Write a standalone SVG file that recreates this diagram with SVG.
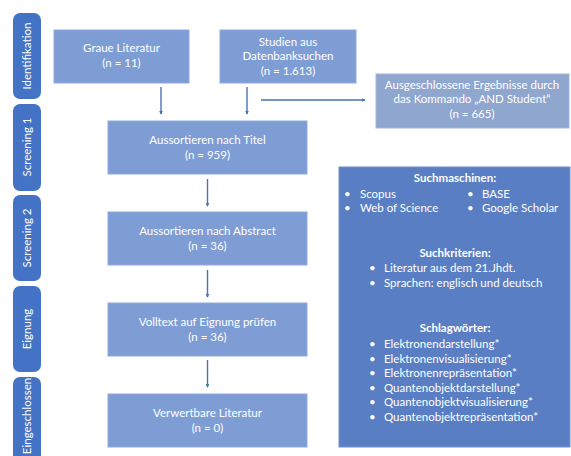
<svg xmlns="http://www.w3.org/2000/svg" width="571" height="456" viewBox="0 0 571 456">
<defs>
<style>
text{font-family:Lato,"Open Sans","Liberation Sans",sans-serif;fill:#ffffff;font-size:11.5px}
.c{text-anchor:middle}
.b{font-weight:bold}
.side{fill:#4472c4}
.box{fill:#7e9dd5;stroke:#8fabe0;stroke-width:1}
.exc{fill:#8fa6cf;stroke:#a3b6d9;stroke-width:1}
.panel{fill:#5a7ec4;stroke:#7090cc;stroke-width:1}
.con{stroke:#4a72b8;stroke-width:1.4;fill:none}
</style>
<marker id="ah" viewBox="0 0 6 6" refX="5" refY="3" markerWidth="4" markerHeight="4" orient="auto" markerUnits="userSpaceOnUse">
<path d="M0,0 L6,3 L0,6 z" fill="#4a72b8"/>
</marker>
</defs>
<rect width="571" height="456" fill="#ffffff"/>

<g id="phase-identifikation"><rect class="side" x="13" y="13" width="28" height="86" rx="7"/><text class="c" transform="translate(31,56) rotate(-90)">Identifikation</text></g>
<g id="phase-screening1"><rect class="side" x="13" y="104" width="28" height="87" rx="7"/><text class="c" transform="translate(31,147) rotate(-90)">Screening 1</text></g>
<g id="phase-screening2"><rect class="side" x="13" y="195" width="28" height="86" rx="7"/><text class="c" transform="translate(31,238) rotate(-90)">Screening 2</text></g>
<g id="phase-eignung"><rect class="side" x="13" y="286" width="28" height="86" rx="7"/><text class="c" transform="translate(31,329) rotate(-90)">Eignung</text></g>
<g id="phase-eingeschlossen"><rect class="side" x="13" y="377" width="28" height="95" rx="7"/><text class="c" transform="translate(31,416) rotate(-90)">Eingeschlossen</text></g>

<g id="graue"><rect class="box" x="54" y="30" width="135" height="53"/><text class="c" x="121.5" y="52">Graue Literatur</text><text class="c" x="121.5" y="67">(n = 11)</text></g>
<g id="studien"><rect class="box" x="220" y="30" width="136" height="53"/><text class="c" x="288" y="46">Studien aus</text><text class="c" x="288" y="60">Datenbanksuchen</text><text class="c" x="288" y="75">(n = 1.613)</text></g>
<g id="ausgeschlossen"><rect class="exc" x="376" y="74" width="193" height="54"/><text class="c" x="472" y="89">Ausgeschlossene Ergebnisse durch</text><text class="c" x="472" y="103">das Kommando „AND Student“</text><text class="c" x="472" y="118">(n = 665)</text></g>
<g id="titel"><rect class="box" x="108" y="121" width="199" height="53"/><text class="c" x="207.5" y="144">Aussortieren nach Titel</text><text class="c" x="207.5" y="159">(n = 959)</text></g>
<g id="abstract"><rect class="box" x="108" y="212" width="199" height="53"/><text class="c" x="207.5" y="235">Aussortieren nach Abstract</text><text class="c" x="207.5" y="250">(n = 36)</text></g>
<g id="volltext"><rect class="box" x="108" y="303" width="199" height="53"/><text class="c" x="207.5" y="326">Volltext auf Eignung prüfen</text><text class="c" x="207.5" y="341">(n = 36)</text></g>
<g id="verwertbar"><rect class="box" x="108" y="394" width="199" height="53"/><text class="c" x="207.5" y="417">Verwertbare Literatur</text><text class="c" x="207.5" y="432">(n = 0)</text></g>

<g id="info-panel">
<rect class="panel" x="339" y="167" width="231" height="280"/>
<text class="c b" x="455" y="182">Suchmaschinen:</text>
<text x="344" y="198">•</text><text x="360" y="198">Scopus</text>
<text x="467" y="198">•</text><text x="482" y="198">BASE</text>
<text x="344" y="212">•</text><text x="360" y="212">Web of Science</text>
<text x="467" y="212">•</text><text x="482" y="212">Google Scholar</text>
<text class="c b" x="455" y="257">Suchkriterien:</text>
<text x="369" y="272">•</text><text x="384" y="272">Literatur aus dem 21.Jhdt.</text>
<text x="369" y="287">•</text><text x="384" y="287">Sprachen: englisch und deutsch</text>
<text class="c b" x="455" y="332">Schlagwörter:</text>
<text x="369" y="348">•</text><text x="384" y="348">Elektronendarstellung*</text>
<text x="369" y="362.5">•</text><text x="384" y="362.5">Elektronenvisualisierung*</text>
<text x="369" y="377">•</text><text x="384" y="377">Elektronenrepräsentation*</text>
<text x="369" y="391.5">•</text><text x="384" y="391.5">Quantenobjektdarstellung*</text>
<text x="369" y="406">•</text><text x="384" y="406">Quantenobjektvisualisierung*</text>
<text x="369" y="420.5">•</text><text x="384" y="420.5">Quantenobjektrepräsentation*</text>
</g>

<g id="connectors">
<line class="con" x1="161" y1="87" x2="161" y2="114" marker-end="url(#ah)"/>
<line class="con" x1="247" y1="87" x2="247" y2="114" marker-end="url(#ah)"/>
<line class="con" x1="261" y1="100" x2="365" y2="100" marker-end="url(#ah)"/>
<line class="con" x1="207.5" y1="179" x2="207.5" y2="206" marker-end="url(#ah)"/>
<line class="con" x1="207.5" y1="270" x2="207.5" y2="297" marker-end="url(#ah)"/>
<line class="con" x1="207.5" y1="360" x2="207.5" y2="387" marker-end="url(#ah)"/>
</g>
</svg>
